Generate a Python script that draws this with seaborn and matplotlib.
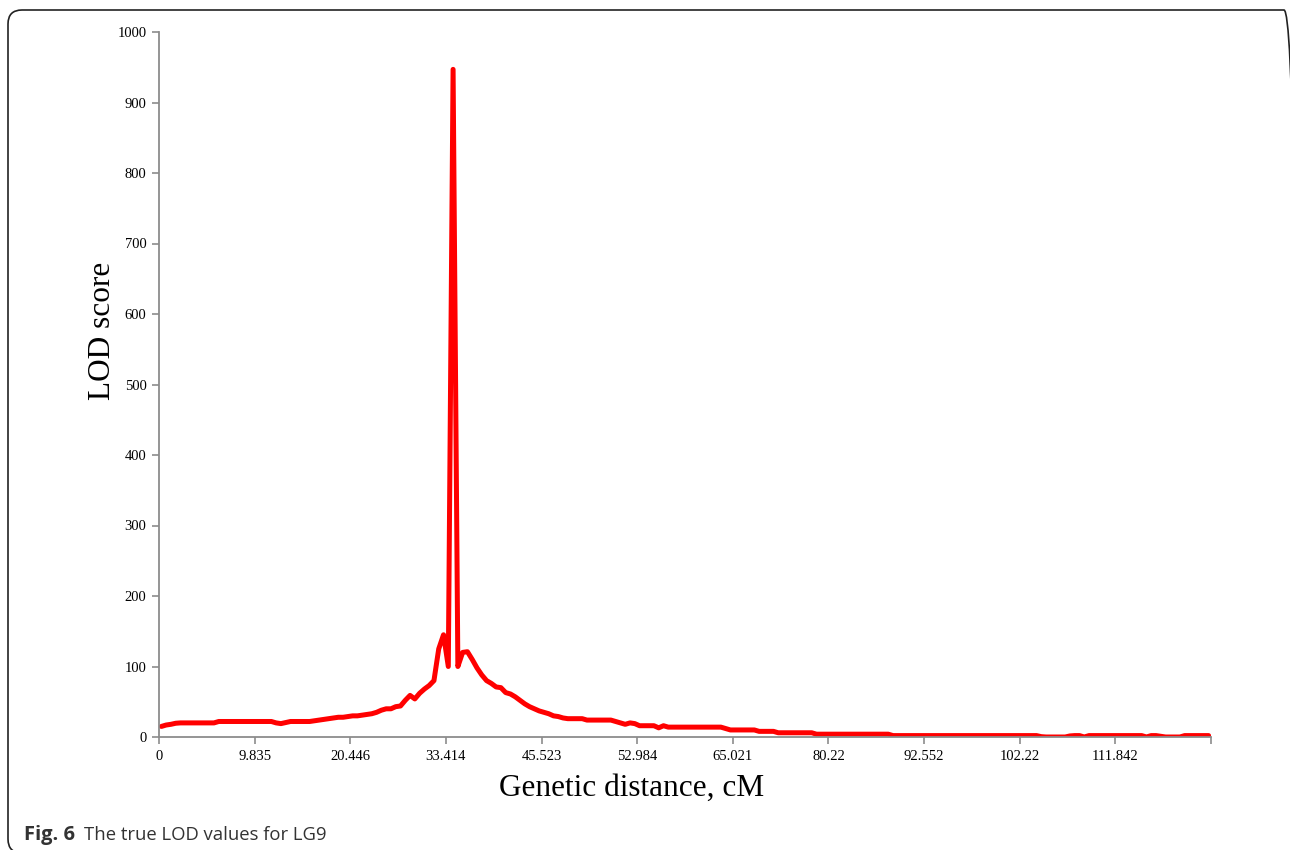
import numpy as np
import pandas as pd
import seaborn as sns
import matplotlib
matplotlib.use("Agg")
import matplotlib.pyplot as plt
from matplotlib.patches import FancyBboxPatch
from matplotlib.transforms import IdentityTransform

# ---- data (LOD score per marker/category) ----
lod_values = [
    15, 17, 18, 19.5, 20, 20, 20, 20, 20, 20,          # 0-9
    20, 20, 22, 22, 22, 22, 22, 22, 22, 22,            # 10-19
    22, 22, 22, 22, 20, 19, 20.5, 22, 22, 22,          # 20-29
    22, 22, 23, 24, 25, 26, 27, 28, 28, 29,            # 30-39
    30, 30, 31, 32, 33, 35, 38, 40, 40, 43,            # 40-49
    44, 52, 59, 54, 62, 68, 73, 80, 125, 145,          # 50-59
    100, 947, 100, 120, 121, 110, 98, 88, 80, 76,      # 60-69
    71, 70, 63, 61, 57, 52, 47, 43, 40, 37,            # 70-79
    35, 33, 30, 29, 27, 26, 26, 26, 26, 24,            # 80-89
    24, 24, 24, 24, 24, 22, 20, 18, 20, 19,            # 90-99
    16, 16, 16, 16, 13, 16, 14, 14, 14, 14,            # 100-109
    14, 14, 14, 14, 14, 14, 14, 14, 12, 10,            # 110-119
    10, 10, 10, 10, 10, 8, 8, 8, 8, 6,                 # 120-129
    6, 6, 6, 6, 6, 6, 6, 4, 4, 4,                      # 130-139
    4, 4, 4, 4, 4, 4, 4, 4, 4, 4,                      # 140-149
    4, 4, 4, 2, 2, 2, 2, 2, 2, 2,                      # 150-159
    2, 2, 2, 2, 2, 2, 2, 2, 2, 2,                      # 160-169
    2, 2, 2, 2, 2, 2, 2, 2, 2, 2,                      # 170-179
    2, 2, 2, 2, 0.5, 0, 0, 0, 0, 0,                    # 180-189
    1.5, 2, 2, 0, 2, 2, 2, 2, 2, 2,                    # 190-199
    2, 2, 2, 2, 2, 2, 0, 2, 2, 1,                      # 200-209
    0, 0, 0, 0, 2, 2, 2, 2, 2, 2,                      # 210-219
]
tick_labels = ["0", "9.835", "20.446", "33.414", "45.523", "52.984",
               "65.021", "80.22", "92.552", "102.22", "111.842"]
label_step = 20          # one label every 20 categories
x_title = "Genetic distance, cM"
y_title = "LOD score"
caption_bold = "Fig. 6"
caption_text = "The true LOD values for LG9"

n = len(lod_values)
df = pd.DataFrame({"category": np.arange(n) + 0.5, "LOD": lod_values})

sns.set_theme(style="white")
plt.rcParams["font.family"] = ["Liberation Serif", "DejaVu Serif"]

fig = plt.figure(figsize=(12.9, 8.5), dpi=100)
ax = fig.add_axes([159 / 1290, 1 - 737 / 850, 1052 / 1290, 705 / 850])

sns.lineplot(data=df, x="category", y="LOD", ax=ax, color="#FF0000",
             linewidth=3.6, solid_joinstyle="round", solid_capstyle="round")

ax.set_xlim(0, n)
ax.set_ylim(0, 1000)
ax.set_yticks(np.arange(0, 1001, 100))
ax.set_xticks(np.arange(0, n + 1, label_step))
ax.set_xticklabels(tick_labels + [""])

axis_col = "#8c8c8c"
for side in ["top", "right"]:
    ax.spines[side].set_visible(False)
for side in ["left", "bottom"]:
    ax.spines[side].set_color(axis_col)
    ax.spines[side].set_linewidth(1.3)
ax.tick_params(axis="both", which="major", direction="out", length=5,
               width=1.2, color=axis_col, labelsize=10.5, labelcolor="black",
               left=True, bottom=True, pad=4)
ax.grid(False)

ax.set_xlabel(x_title, fontsize=22.5, color="black")
ax.set_ylabel(y_title, fontsize=22.5, color="black")
ax.xaxis.set_label_coords(0.449, -0.052)
ax.yaxis.set_label_coords(-0.040, 0.576)

# caption
fig.text(24 / 1290, 10 / 850, caption_bold, fontsize=14.5, fontweight="bold",
         color="#333333", family=["Open Sans", "DejaVu Sans"], va="baseline")
fig.text(84 / 1290, 10 / 850, caption_text, fontsize=13.3,
         color="#333333", family=["Open Sans", "DejaVu Sans"], va="baseline")

# rounded frame
frame = FancyBboxPatch((8, -3), 1290, 843,
                       boxstyle="round,pad=0,rounding_size=14",
                       transform=IdentityTransform(), fill=False,
                       edgecolor="#222222", linewidth=1.2)
fig.patches.append(frame)

fig.savefig("out.png", dpi=100)
